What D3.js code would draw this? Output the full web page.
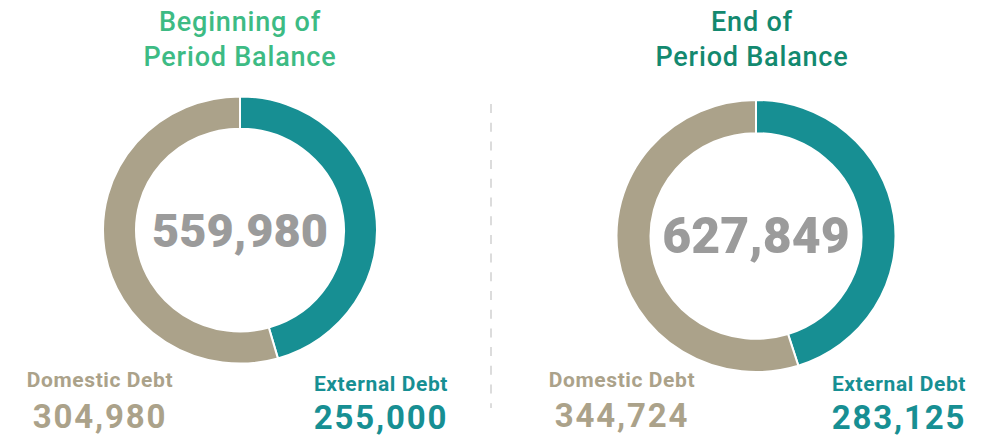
<!DOCTYPE html>
<html>
<head>
<meta charset="utf-8">
<script src="https://cdn.jsdelivr.net/npm/d3@7"></script>
<style>
  body { margin: 0; background: #fff; }
  svg { display: block; font-family: Roboto, "DejaVu Sans", sans-serif; }
</style>
</head>
<body>
<svg width="989" height="438"></svg>
<script>
// chart data
var titles = [["Beginning of", "Period Balance"], ["End of", "Period Balance"]];
var seriesNames = ["External Debt", "Domestic Debt"];
var external = [255000, 283125];
var domestic = [304980, 344724];

var svg = d3.select('svg');

var teal = '#178f93', tan = '#aba28a', grey = '#9b9b9b';
var titleColors = ['#3dbb84', '#13896f'];

// layout of the two panels
var panels = [
    { cx: 240, cy: 230, r: 137, ir: 104, title: 240, domX: 100, extX: 381, sy: 0.975 },
    { cx: 756, cy: 236, r: 139.5, ir: 105.5, title: 752, domX: 622, extX: 899, sy: 0.975 }
];

var fmt = d3.format(',');
var pie = d3.pie().sort(null).value(function(d) { return d; });

function label(x, y, size, color, txt, spacing) {
    return svg.append('text')
        .attr('x', x).attr('y', y)
        .attr('text-anchor', 'middle')
        .attr('font-size', size)
        .attr('font-weight', 700)
        .attr('letter-spacing', spacing || 0)
        .attr('fill', color)
        .text(txt);
}

panels.forEach(function(p, i) {
    var values = [external[i], domestic[i]];
    var total = d3.sum(values);
    var arc = d3.arc().innerRadius(p.ir).outerRadius(p.r);

    var g = svg.append('g')
        .attr('transform', 'translate(' + p.cx + ',' + p.cy + ') scale(1,' + p.sy + ')');

    g.selectAll('path')
        .data(pie(values))
        .enter()
        .append('path')
        .attr('d', arc)
        .attr('fill', function(d, j) { return j === 0 ? teal : tan; })
        .attr('stroke', '#fff')
        .attr('stroke-width', 2);

    label(p.cx, p.cy + 17, i === 0 ? 47 : 50, grey, fmt(total))
        .attr('font-weight', 900);

    // title
    titles[i].forEach(function(line, k) {
        label(p.title, 31 + k * 35, 27, titleColors[i], line, 0.8)
            .attr('font-weight', 500);
    });

    // legends under the donut
    label(p.domX, 387, 21, tan, seriesNames[1], 0.6);
    label(p.domX, i === 0 ? 428 : 427, 33, tan, fmt(domestic[i]), 1.8);
    label(p.extX, 391, 21, teal, seriesNames[0], 0.6);
    label(p.extX, 429, 33, teal, fmt(external[i]), 1.8);
});

// dashed divider
svg.append('line')
    .attr('x1', 491).attr('x2', 491)
    .attr('y1', 104).attr('y2', 408)
    .attr('stroke', '#dcdcdc')
    .attr('stroke-width', 2)
    .attr('stroke-dasharray', '9,9.7');
</script>
</body>
</html>
